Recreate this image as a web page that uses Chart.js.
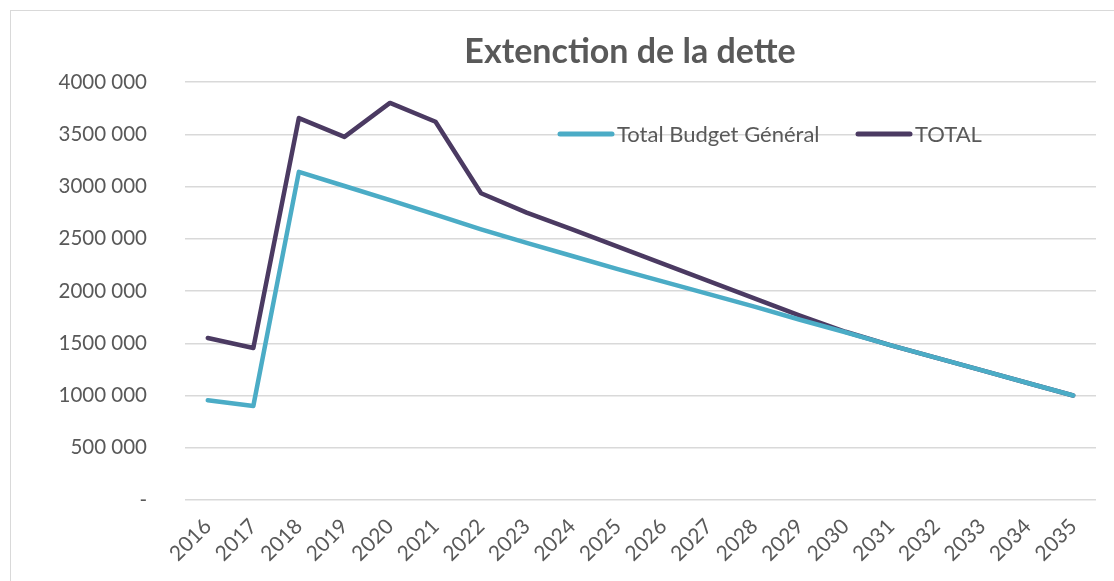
<!DOCTYPE html>
<html>
<head>
<meta charset="utf-8">
<script src="https://cdn.jsdelivr.net/npm/chart.js@4.4.1/dist/chart.umd.min.js"></script>
<style>
  html, body { margin: 0; padding: 0; background: #fff; }
  #wrap { position: relative; width: 1114px; height: 581px; overflow: hidden; }
  #frame { position: absolute; left: 10px; top: 10px; width: 1200px; height: 700px; border: 1.5px solid #d9d9d9; box-sizing: border-box; }
  canvas { position: absolute; left: 0; top: 0; }
</style>
</head>
<body>
<div id="wrap">
  <div id="frame"></div>
  <canvas id="c" width="1114" height="581"></canvas>
</div>
<script>
const categories = ["2016","2017","2018","2019","2020","2021","2022","2023","2024","2025","2026","2027","2028","2029","2030","2031","2032","2033","2034","2035"];
const totalBudgetGeneral = [955000, 900000, 3140000, 3005000, 2870000, 2730000, 2590000, 2460000, 2335000, 2210000, 2090000, 1970000, 1850000, 1725000, 1605000, 1480000, 1360000, 1240000, 1120000, 1000000];
const totalValues = [1550000, 1455000, 3655000, 3475000, 3800000, 3620000, 2935000, 2750000, 2590000, 2425000, 2260000, 2095000, 1930000, 1765000, 1610000, 1480000, 1360000, 1240000, 1120000, 1000000];
const seriesNames = ["Total Budget Général", "TOTAL"];
const titleText = "Extenction de la dette";
const yTickValues = [0, 500000, 1000000, 1500000, 2000000, 2500000, 3000000, 3500000, 4000000];

const TEXT = "#595959";
const BLUE = "#4BACC6";
const PURPLE = "#4B3A62";
const FONT = "Lato, 'Open Sans', sans-serif";

function fmt(v) {
  if (v === 0) return "-";
  return (v / 1000) + " 000";
}

const overlay = {
  id: "overlay",
  afterDraw(chart) {
    const ctx = chart.ctx;
    const ca = chart.chartArea;
    ctx.save();
    // title
    ctx.fillStyle = TEXT;
    ctx.font = "bold 34px " + FONT;
    ctx.textAlign = "center";
    ctx.textBaseline = "middle";
    ctx.fillText(titleText, 630, 52);
    // legend
    const ly = 134;
    const starts = [558, 856];
    const colors = [BLUE, PURPLE];
    ctx.font = "22px " + FONT;
    ctx.textAlign = "left";
    ctx.lineCap = "round";
    seriesNames.forEach((name, i) => {
      const x = starts[i];
      ctx.strokeStyle = colors[i];
      ctx.lineWidth = 5;
      ctx.beginPath();
      ctx.moveTo(x + 2, ly);
      ctx.lineTo(x + 54, ly);
      ctx.stroke();
      ctx.fillStyle = TEXT;
      ctx.fillText(name, x + 59, ly + 1);
    });
    ctx.restore();
  }
};

new Chart(document.getElementById("c"), {
  type: "line",
  data: {
    labels: categories,
    datasets: [
      { label: seriesNames[0], data: totalBudgetGeneral, borderColor: BLUE, backgroundColor: BLUE, borderWidth: 4.5, pointRadius: 0, tension: 0, borderJoinStyle: "round", borderCapStyle: "round" },
      { label: seriesNames[1], data: totalValues, borderColor: PURPLE, backgroundColor: PURPLE, borderWidth: 4.5, pointRadius: 0, tension: 0, borderJoinStyle: "round", borderCapStyle: "round" }
    ]
  },
  options: {
    responsive: false,
    animation: false,
    devicePixelRatio: 1,
    layout: { padding: { top: 82, right: 18, bottom: 5, left: 0 } },
    plugins: { legend: { display: false }, title: { display: false }, tooltip: { enabled: false } },
    scales: {
      x: {
        offset: true,
        grid: { display: false, drawTicks: false },
        border: { display: false },
        ticks: { color: TEXT, font: { family: FONT, size: 21 }, maxRotation: 45, minRotation: 45, padding: 14, autoSkip: false },
        afterFit(s) { s.height = 76; }
      },
      y: {
        min: 0, max: 4000000,
        afterBuildTicks(s) { s.ticks = yTickValues.map(v => ({ value: v })); },
        grid: { color: "#d9d9d9", lineWidth: 1.5, drawTicks: false },
        border: { display: false },
        ticks: { color: TEXT, font: { family: FONT, size: 20.5 }, padding: 38, callback: v => fmt(v) },
        afterFit(s) { s.width = 185; }
      }
    }
  },
  plugins: [overlay]
});
</script>
</body>
</html>
